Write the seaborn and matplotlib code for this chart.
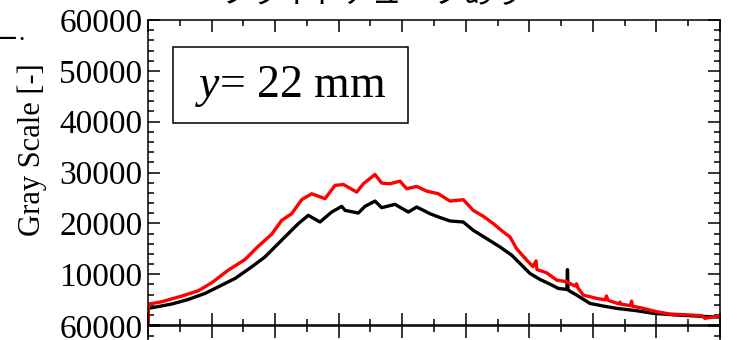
import numpy as np
import pandas as pd
import seaborn as sns
import matplotlib.pyplot as plt
from matplotlib import font_manager
from matplotlib.ticker import MultipleLocator
from matplotlib.patches import Rectangle

# ---- data ----
red_x = [0, 0.05, 2.16, 5.30, 7.91, 10.02, 12.63, 15.26, 17.35, 19.46, 21.04, 22.61,
         24.18, 25.76, 27.85, 29.42, 30.73, 32.84, 33.88, 35.72, 36.77, 38.08, 39.65,
         40.70, 42.28, 43.85, 45.68, 47.52, 49.61, 51.18, 52.76, 54.33, 55.90, 56.96,
         58.0, 59.59, 60.58, 61.05, 61.2, 62.73, 64.30, 65.88, 67.18, 67.42, 67.65,
         68.49, 70.60, 71.91, 72.14, 72.38, 74.11, 74.26, 74.42, 75.92, 76.08, 76.23,
         77.93, 80.04, 82.13, 85.28, 87.12, 87.64, 90.0]
red_y = [300, 4100, 4570, 5690, 6730, 8300, 10790, 12880, 15490, 17850, 20590, 21900,
         24650, 25820, 24850, 27450, 27650, 26140, 27780, 29610, 27920, 27780, 28300,
         26800, 27260, 26340, 25820, 24380, 24650, 22550, 21380, 19940, 18300, 17320,
         15000, 12750, 11500, 12600, 10920, 10260, 8830, 8500, 7650, 8100, 7300,
         5880, 5230, 4950, 5700, 4850, 4150, 4500, 4100, 3800, 4700, 3700,
         3270, 2610, 2160, 1960, 1830, 1310, 1830]

black_x = [0, 0.05, 3.73, 6.34, 8.97, 11.06, 13.69, 16.32, 18.41, 20.50, 22.07, 23.65,
           25.22, 27.06, 28.90, 30.48, 31.0, 33.09, 34.14, 35.72, 36.77, 38.86, 40.96,
           42.28, 44.37, 45.42, 47.52, 49.61, 51.18, 53.29, 55.38, 57.23, 58.80, 60.10,
           61.68, 63.25, 64.56, 65.9, 66.0, 66.1, 67.45, 69.54, 71.64, 73.74, 76.89,
           79.50, 83.18, 86.33, 88.42, 90.0]
black_y = [300, 3270, 4120, 5030, 6210, 7510, 9150, 11440, 13400, 16020, 17980, 19940,
           21570, 20260, 22220, 23340, 22550, 22030, 23340, 24380, 23080, 23730, 22220,
           23210, 21900, 21380, 20460, 20260, 18630, 16990, 15360, 13730, 11770, 10140,
           8960, 8040, 7200, 7000, 10900, 6860, 5880, 4250, 3730, 3270, 2810,
           2290, 1960, 1760, 1630, 1550]

y_ticks = [0, 10000, 20000, 30000, 40000, 50000, 60000]
y_tick_labels = ["", "10000", "20000", "30000", "40000", "50000", "60000"]
lower_ticks = [60000]
lower_tick_labels = ["60000"]
title_text = "フライトチューブあり"
ylabel_text = "Gray Scale [-]"
box_text = r"$y$= 22 mm"

# ---- style ----
sns.set_theme(style="ticks")
available = {f.name for f in font_manager.fontManager.ttflist}
serif_pick = "DejaVu Serif"
for cand in ["Liberation Serif", "Times New Roman", "Nimbus Roman", "Nimbus Roman No9 L",
             "Noto Serif", "DejaVu Serif"]:
    if cand in available:
        serif_pick = cand
        break
plt.rcParams["font.family"] = "serif"
plt.rcParams["font.serif"] = [serif_pick, "DejaVu Serif"]
plt.rcParams["mathtext.fontset"] = "custom"
plt.rcParams["mathtext.it"] = serif_pick + ":italic"
plt.rcParams["mathtext.rm"] = serif_pick

W, H = 742, 340
fig = plt.figure(figsize=(W / 100, H / 100), dpi=100)
ax = fig.add_axes([148 / W, 15 / H, 572 / W, 305 / H])
ax2 = fig.add_axes([148 / W, 14 / H - 0.9, 572 / W, 0.9])

df_black = pd.DataFrame({"x": black_x, "y": black_y})
df_red = pd.DataFrame({"x": red_x, "y": red_y})
sns.lineplot(data=df_black, x="x", y="y", ax=ax, color="black", lw=2.4,
             sort=False, estimator=None, legend=False)
sns.lineplot(data=df_red, x="x", y="y", ax=ax, color="#ff0000", lw=2.4,
             sort=False, estimator=None, legend=False)

for a in (ax, ax2):
    a.set_xlim(0, 90)
    a.set_ylim(0, 60000)
    a.xaxis.set_major_locator(MultipleLocator(10))
    a.xaxis.set_minor_locator(MultipleLocator(5))
    a.yaxis.set_minor_locator(MultipleLocator(2000))
    a.tick_params(which="both", direction="in", top=True, right=True,
                  labelbottom=False, width=1.1, color="black", labelcolor="black",
                  labelsize=24, pad=4)
    a.tick_params(which="major", length=8.5)
    a.tick_params(which="minor", length=4.5)
    for s in a.spines.values():
        s.set_visible(True)
        s.set_color("black")
        s.set_linewidth(1.1)
    a.set_xlabel("")
    a.set_ylabel("")

ax.set_yticks(y_ticks)
ax.set_yticklabels(y_tick_labels, family=serif_pick)
ax2.set_yticks(lower_ticks)
ax2.set_yticklabels(lower_tick_labels, family=serif_pick)
ax2.set_facecolor("white")

# annotation box
ax.add_patch(Rectangle((0.0437, 0.6623), 0.4108, 0.2492, transform=ax.transAxes,
                       fill=False, edgecolor="black", lw=1.1, zorder=5))
ax.text(0.25, 0.7475, box_text, transform=ax.transAxes, ha="center",
        va="baseline", fontsize=33, color="black", zorder=6, family=serif_pick)

fig.text(32 / W, 1 - 150 / H, ylabel_text, rotation=90, ha="center", va="center",
         fontsize=22, color="black", family=serif_pick)
fig.text(372 / W, 1 - 3 / H, title_text, family=["Noto Sans CJK JP", "DejaVu Sans"],
         ha="center", va="baseline", fontsize=22, color="black")
fig.text(-2 / W, 1 - 46 / H, "–", ha="left", va="baseline", fontsize=24,
         color="black", family=serif_pick, fontweight="bold")
fig.text(18 / W, 1 - 40 / H, ".", ha="left", va="baseline", fontsize=18,
         color="black", family=serif_pick)

fig.savefig("out.png", dpi=100)
